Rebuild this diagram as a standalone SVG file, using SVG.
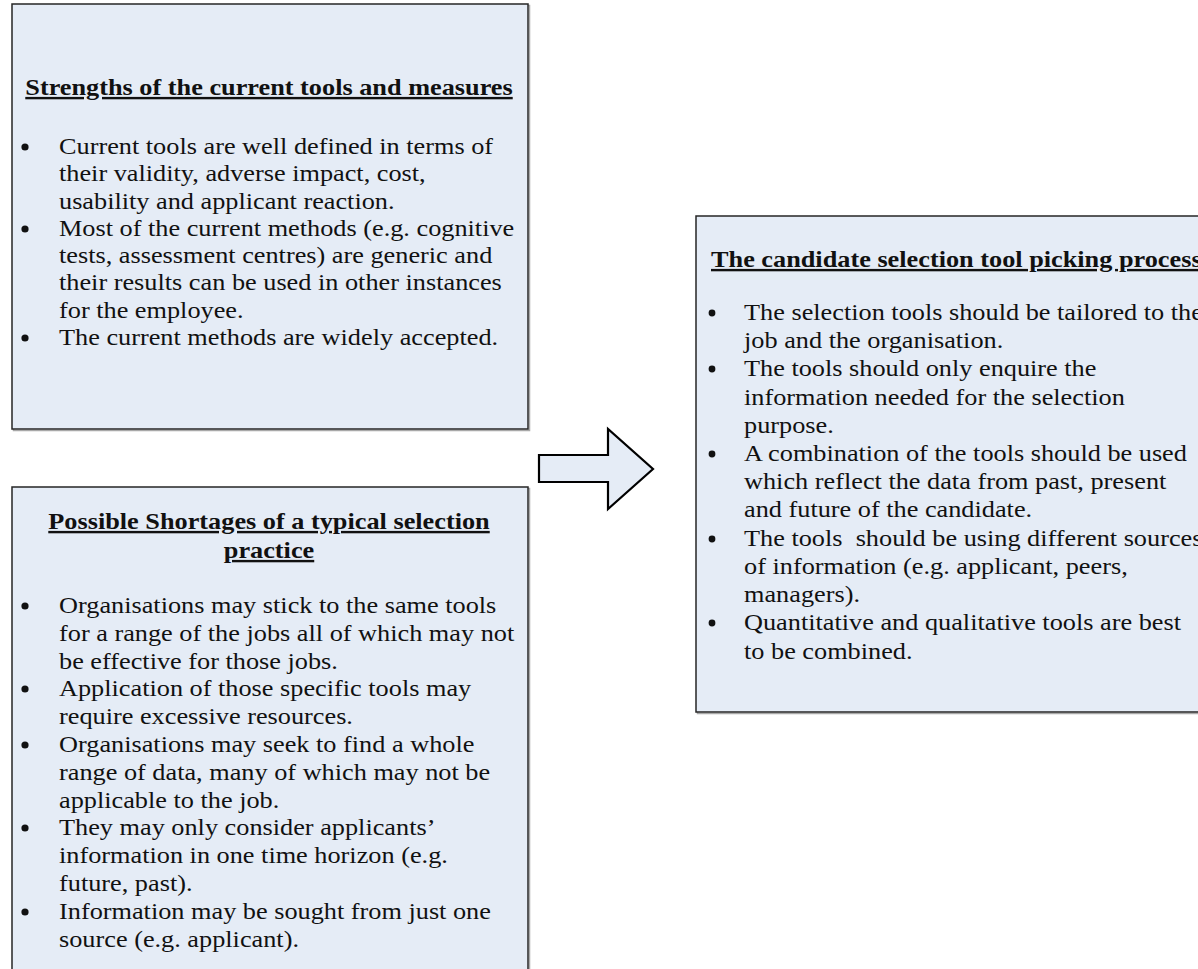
<svg xmlns="http://www.w3.org/2000/svg" width="1198" height="969" viewBox="0 0 1198 969">
  <style>
    .box { fill: #E5ECF6; stroke: #262626; stroke-width: 1.5; }
    .shadow { fill: none; stroke: #a8a8a8; stroke-width: 1.5; }
    .t { font-family: "Liberation Serif", "Times New Roman", serif; font-size: 24px; fill: #111; white-space: pre; }
    .h { font-weight: bold; text-decoration: underline; }
    .dot { fill: #111; }
    .arrow { fill: #E5ECF6; stroke: #000; stroke-width: 2.2; stroke-linejoin: miter; }
  </style>
  <rect width="1198" height="969" fill="#ffffff"/>

  <!-- Strengths box -->
  <g id="strengths">
    <rect class="shadow" x="13.5" y="5.5" width="516" height="425"/>
    <rect class="box" x="12" y="4" width="516" height="425"/>
    <g transform="translate(269,0) scale(1.095,1)">
      <text class="t h" x="0" y="95" text-anchor="middle">Strengths of the current tools and measures</text>
    </g>
    <circle class="dot" cx="25" cy="147" r="3.6"/>
    <circle class="dot" cx="25" cy="229" r="3.6"/>
    <circle class="dot" cx="25" cy="338" r="3.6"/>
    <g transform="translate(59,0) scale(1.095,1)">
      <text class="t" x="0" y="154">Current tools are well defined in terms of</text>
      <text class="t" x="0" y="181">their validity, adverse impact, cost,</text>
      <text class="t" x="0" y="209">usability and applicant reaction.</text>
      <text class="t" x="0" y="236">Most of the current methods (e.g. cognitive</text>
      <text class="t" x="0" y="263">tests, assessment centres) are generic and</text>
      <text class="t" x="0" y="290">their results can be used in other instances</text>
      <text class="t" x="0" y="318">for the employee.</text>
      <text class="t" x="0" y="345">The current methods are widely accepted.</text>
    </g>
  </g>

  <!-- Shortages box -->
  <g id="shortages">
    <rect class="shadow" x="13.5" y="488.5" width="516" height="500"/>
    <rect class="box" x="12" y="487" width="516" height="500"/>
    <g transform="translate(269,0) scale(1.095,1)">
      <text class="t h" x="0" y="529" text-anchor="middle">Possible Shortages of a typical selection</text>
      <text class="t h" x="0" y="558" text-anchor="middle">practice</text>
    </g>
    <circle class="dot" cx="25" cy="606" r="3.6"/>
    <circle class="dot" cx="25" cy="689" r="3.6"/>
    <circle class="dot" cx="25" cy="745" r="3.6"/>
    <circle class="dot" cx="25" cy="828" r="3.6"/>
    <circle class="dot" cx="25" cy="912" r="3.6"/>
    <g transform="translate(59,0) scale(1.095,1)">
      <text class="t" x="0" y="613">Organisations may stick to the same tools</text>
      <text class="t" x="0" y="641">for a range of the jobs all of which may not</text>
      <text class="t" x="0" y="669">be effective for those jobs.</text>
      <text class="t" x="0" y="696">Application of those specific tools may</text>
      <text class="t" x="0" y="724">require excessive resources.</text>
      <text class="t" x="0" y="752">Organisations may seek to find a whole</text>
      <text class="t" x="0" y="780">range of data, many of which may not be</text>
      <text class="t" x="0" y="808">applicable to the job.</text>
      <text class="t" x="0" y="835">They may only consider applicants’</text>
      <text class="t" x="0" y="863">information in one time horizon (e.g.</text>
      <text class="t" x="0" y="891">future, past).</text>
      <text class="t" x="0" y="919">Information may be sought from just one</text>
      <text class="t" x="0" y="947">source (e.g. applicant).</text>
    </g>
  </g>

  <!-- Block arrow between the columns -->
  <g id="connectors">
    <polygon class="arrow" points="539,455 608,455 608,429 653,469 608,509 608,482 539,482"/>
  </g>

  <!-- Picking process box -->
  <g id="picking">
    <rect class="shadow" x="697.5" y="217.5" width="520" height="496"/>
    <rect class="box" x="696" y="216" width="520" height="496"/>
    <g transform="translate(711,0) scale(1.095,1)">
      <text class="t h" x="0" y="267">The candidate selection tool picking process</text>
    </g>
    <circle class="dot" cx="712" cy="313" r="3.4"/>
    <circle class="dot" cx="712" cy="369" r="3.4"/>
    <circle class="dot" cx="712" cy="454" r="3.4"/>
    <circle class="dot" cx="712" cy="539" r="3.4"/>
    <circle class="dot" cx="712" cy="623" r="3.4"/>
    <g transform="translate(744,0) scale(1.095,1)">
      <text class="t" x="0" y="320">The selection tools should be tailored to the</text>
      <text class="t" x="0" y="348">job and the organisation.</text>
      <text class="t" x="0" y="376">The tools should only enquire the</text>
      <text class="t" x="0" y="405">information needed for the selection</text>
      <text class="t" x="0" y="433">purpose.</text>
      <text class="t" x="0" y="461">A combination of the tools should be used</text>
      <text class="t" x="0" y="489">which reflect the data from past, present</text>
      <text class="t" x="0" y="517">and future of the candidate.</text>
      <text class="t" x="0" y="546">The tools  should be using different sources</text>
      <text class="t" x="0" y="574">of information (e.g. applicant, peers,</text>
      <text class="t" x="0" y="602">managers).</text>
      <text class="t" x="0" y="630">Quantitative and qualitative tools are best</text>
      <text class="t" x="0" y="659">to be combined.</text>
    </g>
  </g>
</svg>
